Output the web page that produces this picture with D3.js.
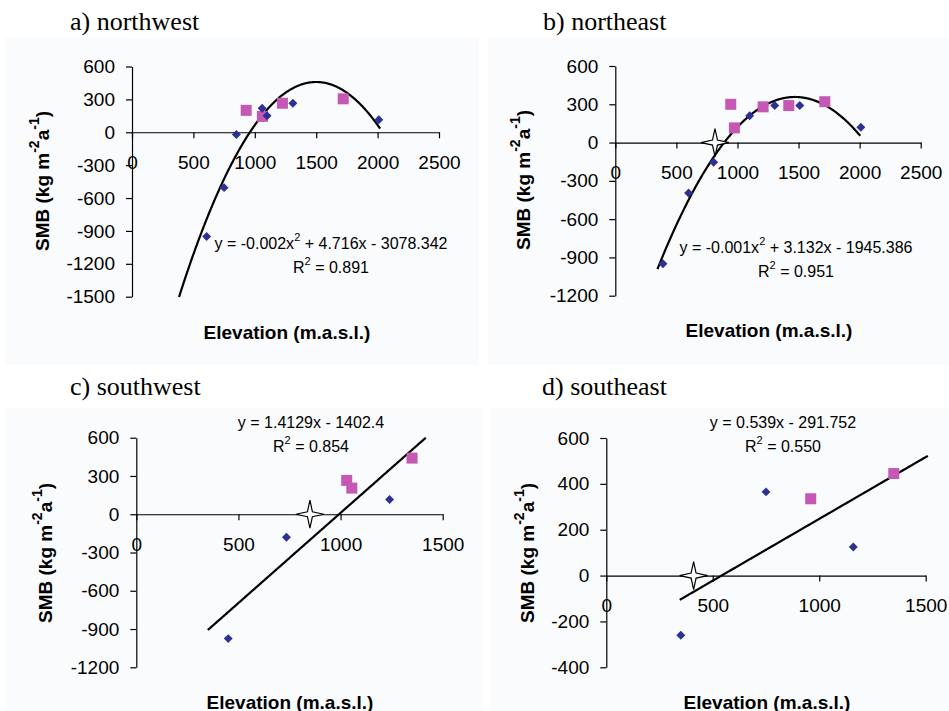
<!DOCTYPE html>
<html>
<head>
<meta charset="utf-8">
<script src="https://cdn.jsdelivr.net/npm/d3@7"></script>
<style>
  body { margin: 0; background: #fff; }
  text { font-family: "Liberation Sans", Arial, sans-serif; }
</style>
</head>
<body>
<div id="chart"></div>
<script>
// Data: [elevation, SMB]
const nwDiamonds = [[608, -950], [750, -505], [850, -20], [1060, 220], [1100, 150], [1310, 265], [2010, 115]];
const nwSquares = [[930, 200], [1062, 145], [1225, 265], [1720, 305]];
const neDiamonds = [[390, -950], [600, -395], [805, -155], [1100, 210], [1305, 290], [1510, 290], [2010, 120]];
const neSquares = [[945, 300], [975, 115], [1210, 280], [1420, 290], [1715, 320]];
const swDiamonds = [[450, -975], [735, -180], [1240, 115]];
const swSquares = [[1030, 265], [1055, 205], [1350, 440]];
const seDiamonds = [[350, -260], [750, 365], [1160, 125]];
const seSquares = [[960, 335], [1350, 445]];

// Equilibrium line altitude stars
const neStar = [816, 0];
const swStar = [850, 0];
const seStar = [410, 0];

// Trendline coefficients [a, b, c] for a*x^2 + b*x + c, and x range of each line
const nwFit = [-0.001572, 4.716, -3078.342];
const neFit = [-0.001065, 3.132, -1945.386];
const swFit = [0, 1.4129, -1402.4];
const seFit = [0, 0.539, -291.752];
const nwFitRange = [383, 2020];
const neFitRange = [345, 2005];
const swFitRange = [350, 1417];
const seFitRange = [345, 1510];

// Tick labels
const xTicksLong = [0, 500, 1000, 1500, 2000, 2500];
const xTicksShort = [0, 500, 1000, 1500];
const yTicksA = [-1500, -1200, -900, -600, -300, 0, 300, 600];
const yTicksB = [-1200, -900, -600, -300, 0, 300, 600];
const yTicksD = [-400, -200, 0, 200, 400, 600];

const titles = ["a) northwest", "b) northeast", "c) southwest", "d) southeast"];
const eqA = ["y = -0.002x", "2", " + 4.716x - 3078.342", "0.891"];
const eqB = ["y = -0.001x", "2", " + 3.132x - 1945.386", "0.951"];
const eqC = ["y = 1.4129x - 1402.4", "", "", "0.854"];
const eqD = ["y = 0.539x - 291.752", "", "", "0.550"];

const diamondColor = "#2e3192";
const squareColor = "#c458b4";

const svg = d3.select("#chart").append("svg")
    .attr("width", 949)
    .attr("height", 711);

const panels = [
    {title: titles[0], tx: 70, ty: 30, bg: [5, 38, 474, 327],
     xr: [132, 439], yr: [296.7, 66.5], xd: [0, 2500], yd: [-1500, 600],
     xt: xTicksLong, yt: yTicksA, dia: nwDiamonds, sq: nwSquares, star: null,
     fit: nwFit, fr: nwFitRange, eq: eqA, ex: 331, ey: 243,
     ylx: 42, yly: 181, xlx: 287, xly: 332},
    {title: titles[1], tx: 543, ty: 30, bg: [488, 38, 461, 327],
     xr: [615.3, 920.7], yr: [295.7, 66], xd: [0, 2500], yd: [-1200, 600],
     xt: xTicksLong, yt: yTicksB, dia: neDiamonds, sq: neSquares, star: neStar,
     fit: neFit, fr: neFitRange, eq: eqB, ex: 796, ey: 247,
     ylx: 523, yly: 180, xlx: 769, xly: 330},
    {title: titles[2], tx: 70, ty: 395, bg: [5, 408, 477, 303],
     xr: [136.3, 442.7], yr: [667.3, 437.7], xd: [0, 1500], yd: [-1200, 600],
     xt: xTicksShort, yt: yTicksB, dia: swDiamonds, sq: swSquares, star: swStar,
     fit: swFit, fr: swFitRange, eq: eqC, ex: 311, ey: 422,
     ylx: 45, yly: 553, xlx: 290, xly: 702},
    {title: titles[3], tx: 542, ty: 395, bg: [491, 408, 458, 303],
     xr: [606.3, 925.7], yr: [667.3, 438], xd: [0, 1500], yd: [-400, 600],
     xt: xTicksShort, yt: yTicksD, dia: seDiamonds, sq: seSquares, star: seStar,
     fit: seFit, fr: seFitRange, eq: eqD, ex: 783, ey: 422,
     ylx: 527, yly: 553, xlx: 767, xly: 702}
];

// 4-pointed star outline
const starPts = d3.range(8).map(i => [i * Math.PI / 4, i % 2 === 0 ? 14 : 3.5]);
const starLine = d3.lineRadial().curve(d3.curveLinearClosed);

// plain integer labels with an ASCII hyphen
const plainFormat = d => String(d);

panels.forEach(p => {
    const g = svg.append("g");

    // faint panel background
    g.append("rect")
        .attr("x", p.bg[0]).attr("y", p.bg[1])
        .attr("width", p.bg[2]).attr("height", p.bg[3])
        .attr("fill", "#fafbfc");

    // Title
    g.append("text")
        .attr("x", p.tx).attr("y", p.ty)
        .style("font-family", "'Liberation Serif', 'Times New Roman', serif")
        .style("font-size", "26px")
        .text(p.title);

    const x = d3.scaleLinear().domain(p.xd).range(p.xr);
    const y = d3.scaleLinear().domain(p.yd).range(p.yr);

    // Y axis
    const yAxis = g.append("g")
        .attr("transform", `translate(${p.xr[0]},0)`)
        .call(d3.axisLeft(y).tickValues(p.yt).tickFormat(plainFormat)
            .tickSize(6).tickSizeOuter(0).tickPadding(11));
    yAxis.selectAll("text").style("font-size", "19px").style("font-family", "'Liberation Sans', Arial, sans-serif");

    // X axis through y = 0
    const xAxis = g.append("g")
        .attr("transform", `translate(0,${y(0)})`)
        .call(d3.axisBottom(x).tickValues(p.xt).tickFormat(plainFormat)
            .tickSize(6).tickSizeOuter(0).tickPadding(17));
    xAxis.selectAll("text").style("font-size", "19px").style("font-family", "'Liberation Sans', Arial, sans-serif");

    g.selectAll(".domain, .tick line").attr("stroke", "#000").attr("stroke-width", 1.2);

    // Axis labels
    g.append("text")
        .attr("x", p.xlx).attr("y", p.xly)
        .attr("text-anchor", "middle")
        .attr("dominant-baseline", "central")
        .style("font-size", "19px").style("font-weight", "bold")
        .text("Elevation (m.a.s.l.)");

    const yl = g.append("text")
        .attr("transform", `translate(${p.ylx},${p.yly}) rotate(-90)`)
        .attr("text-anchor", "middle")
        .attr("dominant-baseline", "central")
        .style("font-size", "19px").style("font-weight", "bold");
    yl.append("tspan").text("SMB (kg m");
    yl.append("tspan").attr("dy", -8).style("font-size", "14px").text("-2");
    yl.append("tspan").attr("dy", 8).text("a");
    yl.append("tspan").attr("dy", -8).style("font-size", "14px").text("-1");
    yl.append("tspan").attr("dy", 8).text(")");

    // Trendline
    const f = xv => p.fit[0] * xv * xv + p.fit[1] * xv + p.fit[2];
    const xs = d3.range(p.fr[0], p.fr[1], 5).concat([p.fr[1]]);
    g.append("path")
        .datum(xs)
        .attr("fill", "none")
        .attr("stroke", "#000")
        .attr("stroke-width", 2.2)
        .attr("d", d3.line().x(d => x(d)).y(d => y(f(d))));

    // Star marker
    if (p.star) {
        g.append("path")
            .attr("transform", `translate(${x(p.star[0])},${y(p.star[1])})`)
            .attr("d", starLine(starPts))
            .attr("fill", "#fff")
            .attr("stroke", "#000")
            .attr("stroke-width", 1.2);
    }

    // Squares
    g.selectAll(".sq")
        .data(p.sq)
        .enter()
        .append("rect")
        .attr("x", d => x(d[0]) - 5.5)
        .attr("y", d => y(d[1]) - 5.5)
        .attr("width", 11).attr("height", 11)
        .attr("fill", squareColor);

    // Diamonds
    g.selectAll(".dia")
        .data(p.dia)
        .enter()
        .append("path")
        .attr("transform", d => `translate(${x(d[0])},${y(d[1])}) rotate(45)`)
        .attr("d", d3.symbol(d3.symbolSquare, 40)())
        .attr("fill", diamondColor);

    // Equation text
    const eq = g.append("text")
        .attr("x", p.ex).attr("y", p.ey)
        .attr("text-anchor", "middle")
        .attr("dominant-baseline", "central")
        .style("font-size", "16px");
    eq.append("tspan").text(p.eq[0]);
    if (p.eq[1]) {
        eq.append("tspan").attr("dy", -6).style("font-size", "11px").text(p.eq[1]);
        eq.append("tspan").attr("dy", 6).text(p.eq[2]);
    }
    const r2 = g.append("text")
        .attr("x", p.ex).attr("y", p.ey + 24)
        .attr("text-anchor", "middle")
        .attr("dominant-baseline", "central")
        .style("font-size", "16px");
    r2.append("tspan").text("R");
    r2.append("tspan").attr("dy", -6).style("font-size", "11px").text("2");
    r2.append("tspan").attr("dy", 6).text(" = " + p.eq[3]);
});
</script>
</body>
</html>
